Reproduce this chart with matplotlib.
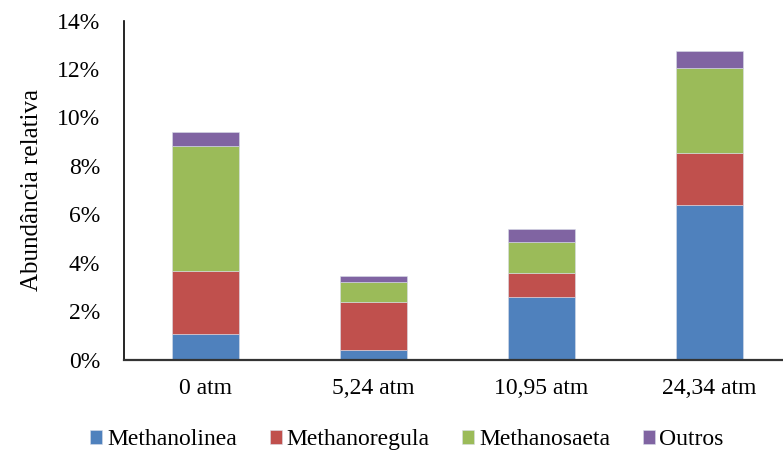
import numpy as np
import matplotlib.pyplot as plt
from matplotlib.ticker import FuncFormatter

plt.rcParams['font.family'] = ['Liberation Serif', 'DejaVu Serif']

pressoes = ['0 atm', '5,24 atm', '10,95 atm', '24,34 atm']
methanolinea = [1.04, 0.39, 2.57, 6.39]
methanoregula = [2.63, 2.00, 1.00, 2.13]
methanosaeta = [5.15, 0.81, 1.30, 3.52]
outros = [0.58, 0.25, 0.52, 0.70]

grupos = [('Methanolinea', methanolinea, '#4F81BD'),
          ('Methanoregula', methanoregula, '#C0504D'),
          ('Methanosaeta', methanosaeta, '#9BBB59'),
          ('Outros', outros, '#8064A2')]

fig = plt.figure(figsize=(7.83, 4.58), dpi=100)
ax = fig.add_axes([0.158, 0.215, 0.842, 0.74])

x = np.arange(len(pressoes))
base = np.zeros(len(pressoes))
for nome, vals, cor in grupos:
    ax.bar(x, vals, 0.4, bottom=base, color=cor, label=nome,
           edgecolor='#d8dde8', linewidth=0.4)
    base += np.array(vals)

ax.set_ylim(0, 14)
ax.set_yticks(range(0, 15, 2))
ax.yaxis.set_major_formatter(FuncFormatter(lambda v, p: '%d%%' % v))
ax.set_xlim(-0.49, 3.44)
ax.set_xticks(x)
ax.set_xticklabels(pressoes)
ax.tick_params(axis='y', length=0, pad=17, labelsize=17)
ax.tick_params(axis='x', length=0, pad=13, labelsize=17)

for s in ['top', 'right']:
    ax.spines[s].set_visible(False)
ax.spines['left'].set_linewidth(1.2)
ax.spines['bottom'].set_linewidth(1.6)
ax.spines['bottom'].set_color('#333333')

ax.set_ylabel('Abundância relativa', fontsize=18, labelpad=10)

fig.legend(loc='lower center', bbox_to_anchor=(0.52, -0.03), ncol=4,
           frameon=False, fontsize=17, handlelength=0.5, handleheight=0.5,
           handletextpad=0.2, columnspacing=1.4)

plt.savefig('out.png', dpi=100)
